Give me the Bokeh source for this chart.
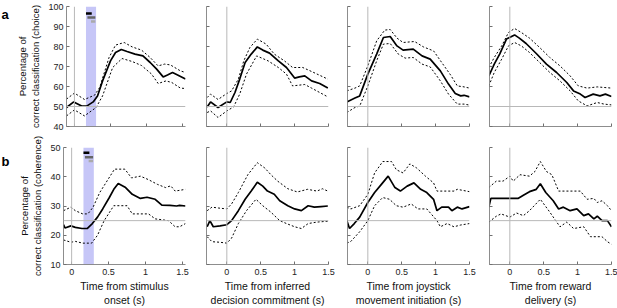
from bokeh.plotting import figure
from bokeh.layouts import column, row
from bokeh.models import Span, BoxAnnotation, FixedTicker, CustomJSTickFormatter
from bokeh.core.properties import value
from bokeh.embed import file_html
from bokeh.resources import INLINE

FONT = "Liberation Sans"

# ---------------- data ----------------
# Row a: choice classification (%)
a1_mean_t = [-0.11, -0.01, 0.10, 0.17, 0.26, 0.32, 0.39, 0.50, 0.57, 0.65, 0.73, 0.84, 0.95, 1.05, 1.14, 1.23, 1.29, 1.36, 1.43, 1.54]
a1_mean = [49.5, 52.3, 50.2, 50.2, 52.3, 55.3, 62.8, 72.8, 77.0, 78.5, 77.5, 76.2, 75.3, 72.0, 68.7, 64.8, 65.8, 67.0, 65.8, 63.7]
a1_up_t = [-0.11, 0.0, 0.14, 0.28, 0.35, 0.48, 0.57, 0.69, 0.80, 0.93, 1.05, 1.16, 1.25, 1.33, 1.47, 1.54]
a1_up = [53.7, 56.7, 53.5, 55.7, 59.5, 74.5, 80.7, 82.0, 79.8, 78.2, 74.5, 70.3, 71.2, 70.8, 67.8, 67.0]
a1_lo_t = [-0.11, 0.0, 0.14, 0.30, 0.39, 0.53, 0.66, 0.80, 0.93, 1.07, 1.16, 1.27, 1.35, 1.47, 1.54]
a1_lo = [45.3, 48.3, 45.3, 49.5, 55.3, 69.5, 74.0, 72.5, 70.5, 66.2, 61.5, 62.8, 62.0, 59.2, 59.0]

a2_mean_t = [-0.29, -0.24, -0.13, 0.0, 0.05, 0.12, 0.19, 0.27, 0.36, 0.45, 0.53, 0.63, 0.76, 0.88, 1.0, 1.07, 1.15, 1.25, 1.37, 1.49]
a2_mean = [49.8, 52.3, 49.5, 52.3, 52.0, 57.0, 63.7, 72.0, 76.2, 79.8, 78.2, 76.7, 72.8, 69.5, 64.2, 64.8, 65.3, 62.8, 61.5, 59.2]
a2_up_t = [-0.29, -0.24, -0.13, 0.0, 0.07, 0.17, 0.25, 0.34, 0.45, 0.58, 0.70, 0.85, 0.97, 1.12, 1.25, 1.49]
a2_up = [54.5, 56.2, 53.5, 56.5, 57.8, 63.7, 72.8, 79.5, 83.7, 81.2, 76.2, 72.8, 69.5, 69.5, 67.5, 63.7]
a2_lo_t = [-0.29, -0.24, -0.13, 0.0, 0.10, 0.19, 0.29, 0.44, 0.61, 0.76, 0.88, 0.97, 1.15, 1.25, 1.49]
a2_lo = [47.0, 47.8, 44.5, 47.8, 49.8, 56.2, 66.2, 75.3, 72.8, 69.5, 66.2, 60.3, 61.0, 59.2, 54.8]

a3_mean_t = [-0.31, -0.19, -0.12, 0.0, 0.13, 0.23, 0.33, 0.43, 0.52, 0.67, 0.80, 0.92, 1.07, 1.19, 1.29, 1.37, 1.42, 1.50]
a3_mean = [52.3, 54.2, 55.3, 66.2, 76.2, 84.5, 85.0, 80.3, 78.2, 78.7, 75.3, 73.7, 67.8, 61.2, 56.5, 55.3, 55.6, 54.8]
a3_up_t = [-0.31, -0.19, -0.12, 0.0, 0.13, 0.25, 0.33, 0.43, 0.52, 0.69, 0.82, 0.97, 1.09, 1.22, 1.32, 1.42, 1.50]
a3_up = [57.8, 59.2, 60.3, 70.3, 82.8, 88.2, 88.5, 84.2, 82.0, 82.5, 79.8, 77.8, 72.0, 65.8, 60.3, 59.8, 59.2]
a3_lo_t = [-0.31, -0.19, -0.12, 0.0, 0.13, 0.23, 0.33, 0.45, 0.55, 0.67, 0.80, 0.92, 1.07, 1.19, 1.32, 1.42, 1.50]
a3_lo = [47.0, 49.5, 50.2, 60.3, 72.8, 81.2, 81.5, 76.2, 74.2, 74.5, 71.2, 69.8, 62.8, 56.2, 51.2, 51.2, 50.7]

a4_mean_t = [-0.31, -0.23, -0.15, -0.05, 0.07, 0.14, 0.24, 0.39, 0.54, 0.69, 0.84, 0.94, 1.04, 1.11, 1.23, 1.33, 1.41, 1.50]
a4_mean = [65.3, 71.2, 76.2, 83.7, 85.8, 84.2, 81.5, 76.5, 71.2, 67.0, 62.0, 57.8, 56.2, 54.5, 56.2, 55.3, 56.2, 55.0]
a4_up_t = [-0.31, -0.23, -0.12, -0.02, 0.07, 0.17, 0.29, 0.44, 0.59, 0.74, 0.89, 1.01, 1.14, 1.29, 1.50]
a4_up = [69.5, 74.5, 80.3, 87.0, 89.0, 87.0, 84.2, 79.5, 74.5, 70.3, 65.3, 60.3, 59.2, 59.8, 59.2]
a4_lo_t = [-0.31, -0.23, -0.12, -0.02, 0.07, 0.17, 0.29, 0.44, 0.59, 0.74, 0.89, 1.01, 1.14, 1.29, 1.39, 1.50]
a4_lo = [60.3, 67.0, 73.7, 80.3, 82.0, 80.3, 77.0, 72.0, 67.0, 62.8, 57.8, 52.8, 50.3, 52.0, 51.2, 50.8]

# Row b: coherence classification (%)
b1_mean_t = [-0.11, -0.09, -0.01, 0.05, 0.14, 0.21, 0.28, 0.35, 0.42, 0.51, 0.57, 0.63, 0.73, 0.82, 0.93, 1.02, 1.13, 1.22, 1.33, 1.42, 1.46, 1.54]
b1_mean = [23.6, 22.5, 23.2, 22.7, 22.3, 22.3, 24.0, 26.2, 29.0, 32.9, 35.7, 37.7, 36.3, 34.0, 32.6, 33.0, 32.3, 30.3, 30.2, 30.0, 30.2, 30.0]
b1_up_t = [-0.11, -0.01, 0.05, 0.15, 0.22, 0.29, 0.38, 0.49, 0.58, 0.72, 0.81, 0.93, 1.04, 1.16, 1.27, 1.34, 1.40, 1.54]
b1_up = [28.4, 29.6, 28.4, 27.3, 27.3, 29.6, 34.6, 39.0, 42.6, 42.6, 39.6, 40.2, 39.0, 37.4, 36.3, 36.9, 35.1, 35.7]
b1_lo_t = [-0.11, -0.01, 0.05, 0.15, 0.27, 0.35, 0.44, 0.57, 0.75, 0.82, 1.04, 1.13, 1.31, 1.40, 1.46, 1.54]
b1_lo = [18.4, 17.6, 17.9, 17.3, 17.3, 20.0, 25.0, 30.1, 30.1, 27.3, 27.3, 25.6, 25.0, 22.9, 22.9, 24.0]

b2_mean_t = [-0.29, -0.25, -0.20, -0.10, 0.0, 0.07, 0.17, 0.27, 0.36, 0.45, 0.53, 0.60, 0.70, 0.78, 0.90, 1.00, 1.10, 1.20, 1.29, 1.39, 1.49]
b2_mean = [22.9, 25.0, 22.9, 23.2, 23.6, 25.0, 28.4, 32.3, 35.1, 38.1, 36.8, 35.1, 34.0, 31.8, 30.1, 29.0, 28.4, 30.1, 29.6, 29.8, 30.0]
b2_up_t = [-0.29, -0.22, -0.12, 0.0, 0.07, 0.17, 0.31, 0.45, 0.56, 0.65, 0.75, 0.90, 1.04, 1.19, 1.33, 1.41, 1.49]
b2_up = [28.4, 29.6, 29.3, 29.0, 30.7, 34.6, 40.7, 44.8, 43.0, 40.7, 38.5, 35.9, 34.8, 35.7, 35.1, 35.9, 35.1]
b2_lo_t = [-0.29, -0.22, -0.10, 0.0, 0.07, 0.17, 0.29, 0.43, 0.53, 0.65, 0.78, 0.88, 1.00, 1.10, 1.20, 1.33, 1.49]
b2_lo = [19.5, 17.8, 17.6, 17.3, 19.0, 24.0, 28.4, 32.3, 30.1, 27.9, 25.0, 24.0, 22.9, 22.3, 24.0, 24.5, 24.8]

b3_mean_t = [-0.31, -0.27, -0.20, -0.12, 0.0, 0.10, 0.20, 0.30, 0.40, 0.48, 0.58, 0.68, 0.78, 0.87, 0.97, 1.02, 1.09, 1.19, 1.24, 1.32, 1.39, 1.50]
b3_mean = [25.0, 22.3, 24.0, 26.2, 31.2, 34.6, 37.4, 40.2, 36.3, 35.1, 36.8, 37.9, 35.7, 34.6, 32.3, 28.4, 29.6, 29.6, 28.4, 29.6, 29.0, 29.8]
b3_up_t = [-0.31, -0.25, -0.12, 0.0, 0.10, 0.22, 0.35, 0.42, 0.52, 0.62, 0.72, 0.85, 0.97, 1.02, 1.27, 1.32, 1.50]
b3_up = [29.6, 29.0, 30.1, 34.0, 41.3, 45.2, 45.2, 42.4, 41.3, 44.4, 43.0, 40.2, 37.9, 35.1, 35.1, 35.7, 34.9]
b3_lo_t = [-0.31, -0.25, -0.12, 0.0, 0.10, 0.22, 0.32, 0.42, 0.52, 0.64, 0.74, 0.87, 1.02, 1.07, 1.17, 1.27, 1.37, 1.50]
b3_lo = [17.3, 17.9, 21.2, 25.0, 30.1, 32.9, 32.3, 30.1, 29.6, 30.7, 29.0, 29.0, 25.0, 22.9, 24.0, 22.9, 23.5, 24.0]

b4_mean_t = [-0.31, -0.28, -0.20, 0.0, 0.12, 0.20, 0.29, 0.39, 0.45, 0.53, 0.64, 0.72, 0.79, 0.89, 0.99, 1.09, 1.16, 1.24, 1.29, 1.36, 1.44, 1.50]
b4_mean = [29.6, 32.6, 32.6, 32.6, 32.6, 33.7, 34.9, 35.7, 37.6, 34.6, 31.8, 29.0, 29.6, 28.4, 29.0, 26.7, 27.3, 25.6, 26.5, 25.0, 25.0, 22.9]
b4_up_t = [-0.31, -0.20, -0.10, 0.0, 0.05, 0.15, 0.29, 0.37, 0.45, 0.54, 0.62, 0.72, 1.04, 1.14, 1.24, 1.29, 1.36, 1.44, 1.50]
b4_up = [36.3, 38.5, 38.5, 40.2, 38.5, 40.7, 40.2, 41.8, 45.2, 41.8, 40.7, 35.1, 35.1, 32.3, 32.6, 31.2, 31.8, 30.1, 28.4]
b4_lo_t = [-0.31, -0.20, -0.13, 0.0, 0.10, 0.20, 0.29, 0.45, 0.59, 0.74, 0.84, 0.94, 1.09, 1.19, 1.36, 1.44, 1.50]
b4_lo = [24.5, 26.5, 27.3, 26.2, 27.6, 26.7, 28.4, 32.3, 27.9, 22.9, 24.5, 22.3, 22.9, 19.5, 19.5, 17.8, 16.9]

# epoch window (blue) and significance bars in first column
win = [0.16, 0.30]
bar_x0 = [0.16, 0.18, 0.23]
bar_x1 = [0.24, 0.29, 0.29]
bar_y_a = [96.5, 94.5, 92.5]
bar_y_b = [48.2, 46.7, 45.4]
bar_colors = ["#000000", "#666666", "#aaaaaa"]

x_ticks = [0, 0.5, 1, 1.5]
ya_ticks = [40, 50, 60, 70, 80, 90, 100]
yb_ticks = [10, 20, 30, 40, 50]
chance_a = 50
chance_b = 25

panel_letters = ["a", "b"]
x_labels = ["Time from stimulus\nonset (s)", "Time from inferred\ndecision commitment (s)",
            "Time from joystick\nmovement initiation (s)", "Time from reward\ndelivery (s)"]
ylabel_a = "Percentage of\ncorrect classification (choice)"
ylabel_b = "Percentage of\ncorrect classification (coherence)"

# ---------------- layout geometry ----------------
letter_w = 14
col_w = [181, 142, 142, 138]
col_bl = [49, 11, 10, 10]
col_br = [10, 9, 10, 6]
row_h = [134, 174]
row_top = [0, 134]
row_bt = [6, 13]
row_bb = [8, 41]
letter_base = [9, 155]
x_ranges = [(-0.11, 1.54), (-0.3, 1.5), (-0.3, 1.5), (-0.3, 1.5)]
y_ranges = [(40, 100), (10, 50)]

data = [
    [(a1_mean_t, a1_mean, a1_up_t, a1_up, a1_lo_t, a1_lo),
     (a2_mean_t, a2_mean, a2_up_t, a2_up, a2_lo_t, a2_lo),
     (a3_mean_t, a3_mean, a3_up_t, a3_up, a3_lo_t, a3_lo),
     (a4_mean_t, a4_mean, a4_up_t, a4_up, a4_lo_t, a4_lo)],
    [(b1_mean_t, b1_mean, b1_up_t, b1_up, b1_lo_t, b1_lo),
     (b2_mean_t, b2_mean, b2_up_t, b2_up, b2_lo_t, b2_lo),
     (b3_mean_t, b3_mean, b3_up_t, b3_up, b3_lo_t, b3_lo),
     (b4_mean_t, b4_mean, b4_up_t, b4_up, b4_lo_t, b4_lo)],
]

AXC = "#707070"
GRAY = "#b8b8b8"
blank = CustomJSTickFormatter(code="return ''")

rows = []
for r in range(2):
    # narrow strip holding the panel letter
    lf = figure(width=letter_w, height=row_h[r], x_range=(0, letter_w), y_range=(0, row_h[r]),
                output_backend="svg", toolbar_location=None,
                min_border_left=0, min_border_right=0, min_border_top=0, min_border_bottom=0)
    lf.axis.visible = False
    lf.grid.visible = False
    lf.outline_line_color = None
    lf.text(x=[1], y=[row_h[r] - (letter_base[r] - row_top[r])], text=[panel_letters[r]],
            text_font=value(FONT), text_font_style="bold", text_font_size="13px",
            text_color="black", text_baseline="alphabetic")
    figs = [lf]
    for c in range(4):
        p = figure(width=col_w[c], height=row_h[r], x_range=x_ranges[c], y_range=y_ranges[r],
                   output_backend="svg", toolbar_location=None,
                   min_border_left=col_bl[c], min_border_right=col_br[c],
                   min_border_top=row_bt[r], min_border_bottom=row_bb[r])
        p.outline_line_color = None
        p.background_fill_color = "white"
        p.border_fill_color = "white"
        p.xgrid.visible = False
        p.ygrid.visible = False

        for ax in (p.xaxis[0], p.yaxis[0]):
            ax.axis_line_color = AXC
            ax.axis_line_width = 0.8
            ax.major_tick_line_color = AXC
            ax.major_tick_in = 3
            ax.major_tick_out = 0
            ax.minor_tick_line_color = None
            ax.major_label_text_font = FONT
            ax.major_label_text_font_size = "9px"
            ax.major_label_text_color = "#222222"
            ax.axis_label_text_font = FONT
            ax.axis_label_text_font_style = "normal"
            ax.axis_label_text_color = "#111111"

        p.xaxis.ticker = FixedTicker(ticks=x_ticks)
        p.yaxis.ticker = FixedTicker(ticks=ya_ticks if r == 0 else yb_ticks)
        p.xaxis.major_label_standoff = 4

        if r == 0:
            p.xaxis.formatter = blank
            p.xaxis.major_label_text_font_size = "5px"
            p.xaxis.major_label_standoff = 0
        else:
            p.xaxis.axis_label = x_labels[c]
            p.xaxis.axis_label_text_font_size = "10.5px"
            p.xaxis.axis_label_standoff = 2

        if c == 0:
            p.yaxis.axis_label = ylabel_a if r == 0 else ylabel_b
            p.yaxis.axis_label_text_font_size = "9.6px"
            p.yaxis.axis_label_standoff = 4
            p.yaxis.major_label_standoff = 3
        else:
            p.yaxis.formatter = blank
            p.yaxis.major_label_text_font_size = "5px"
            p.yaxis.major_label_standoff = 0

        # reference lines
        p.add_layout(Span(location=0, dimension="height", line_color=GRAY, line_width=1))
        p.add_layout(Span(location=chance_a if r == 0 else chance_b, dimension="width",
                          line_color=GRAY, line_width=1))

        if c == 0:
            p.add_layout(BoxAnnotation(left=win[0], right=win[1], fill_color="#c6c6f7",
                                       fill_alpha=1.0, line_color=None, level="underlay"))
            ys = bar_y_a if r == 0 else bar_y_b
            p.segment(x0=bar_x0, y0=ys, x1=bar_x1, y1=ys, line_color=bar_colors, line_width=2.5)

        mt, mv, ut, uv, lt, lv = data[r][c]
        p.line(ut, uv, line_color="black", line_width=1, line_dash="2 2")
        p.line(lt, lv, line_color="black", line_width=1, line_dash="2 2")
        p.line(mt, mv, line_color="black", line_width=1.7)
        figs.append(p)
    rows.append(row(*figs, spacing=0))

layout = column(*rows, spacing=0)
open("out.html", "w").write(file_html(layout, INLINE))
